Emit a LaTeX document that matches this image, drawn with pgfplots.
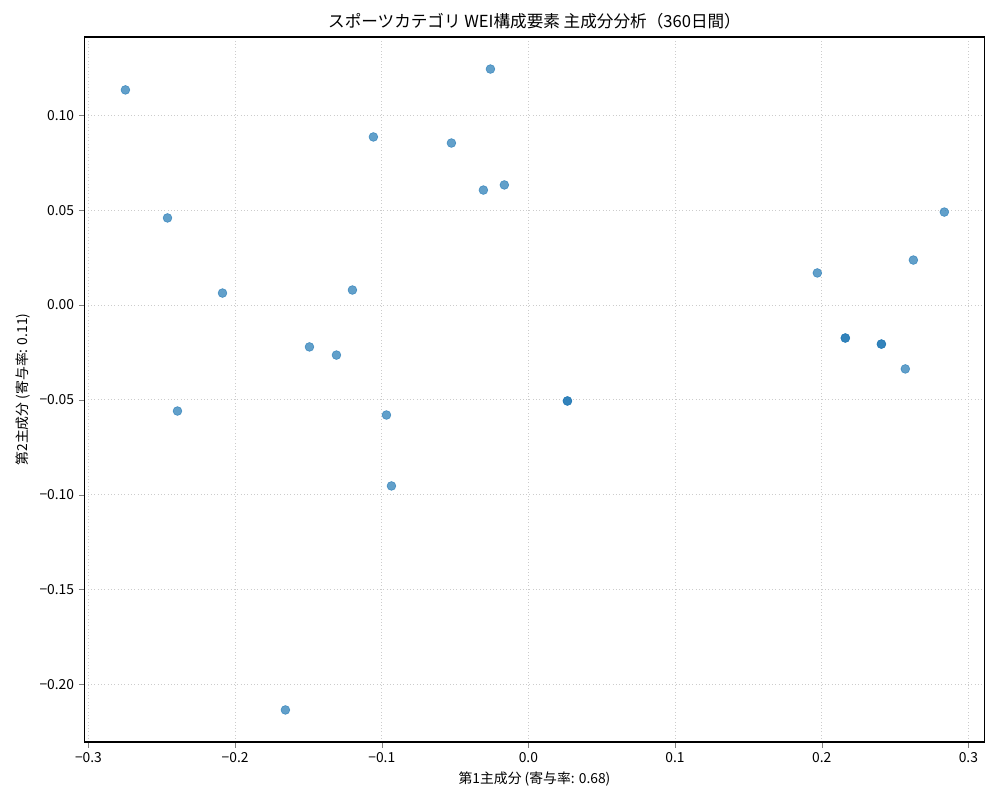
\documentclass[border=0pt]{standalone}
\usepackage{fontspec}
\setmainfont{Noto Sans CJK JP}
\usepackage{pgfplots}
\pgfplotsset{compat=1.18}
\definecolor{tabblue}{HTML}{1F77B4}

\begin{document}
\begin{tikzpicture}
  \useasboundingbox (-0.845in,-0.58in) rectangle (9.155in,7.42in);
  \begin{axis}[
    scale only axis,
    width=9.0in, height=7.05in,
    at={(0,0)}, anchor=south west,
    xmin=-0.3027, xmax=0.311,
    ymin=-0.2304, ymax=0.1413,
    xtick={-0.3,-0.2,...,0.31},
    ytick={-0.20,-0.15,...,0.11},
    xticklabel={\pgfmathsetmacro\v{abs(\tick)}\ifdim\tick pt<-0.0001pt −\fi\pgfmathprintnumber[fixed,fixed zerofill,precision=1,assume math mode=true]{\v}},
    yticklabel={\pgfmathsetmacro\v{abs(\tick)}\ifdim\tick pt<-0.0001pt −\fi\pgfmathprintnumber[fixed,fixed zerofill,precision=2,assume math mode=true]{\v}},
    tick label style={font=\fontsize{10}{12}\selectfont},
    tick align=outside,
    tick pos=left,
    major tick length=4pt,
    grid=major,
    major grid style={dotted, gray!40, line width=0.6pt},
    axis line style={line width=0.8pt},
    title={スポーツカテゴリ WEI構成要素 主成分分析（360日間）},
    title style={font=\fontsize{12}{14}\selectfont, yshift=-4pt},
    xlabel={第1主成分 (寄与率: 0.68)},
    ylabel={第2主成分 (寄与率: 0.11)},
    label style={font=\fontsize{10}{12}\selectfont},
  ]
    \addplot[only marks, mark=*, mark size=3.2pt,
      mark options={fill=tabblue, draw=tabblue, fill opacity=0.7, draw opacity=0.7}]
      coordinates {
        (-0.2748, 0.1134)
        (-0.0259, 0.1244)
        (-0.1057, 0.0886)
        (-0.0525, 0.0854)
        (-0.0307, 0.0606)
        (-0.0164, 0.0633)
        (-0.2461, 0.0459)
        ( 0.2836, 0.0490)
        ( 0.1970, 0.0169)
        ( 0.2625, 0.0237)
        (-0.2086, 0.0063)
        (-0.1200, 0.0079)
        (-0.1493,-0.0221)
        (-0.1309,-0.0264)
        ( 0.2161,-0.0174)
        ( 0.2161,-0.0174)
        ( 0.2407,-0.0206)
        ( 0.2407,-0.0206)
        ( 0.2570,-0.0337)
        (-0.2393,-0.0559)
        (-0.0968,-0.0580)
        ( 0.0266,-0.0506)
        ( 0.0266,-0.0506)
        (-0.0934,-0.0954)
        (-0.1657,-0.2135)
      };
  \end{axis}
\end{tikzpicture}
\end{document}
